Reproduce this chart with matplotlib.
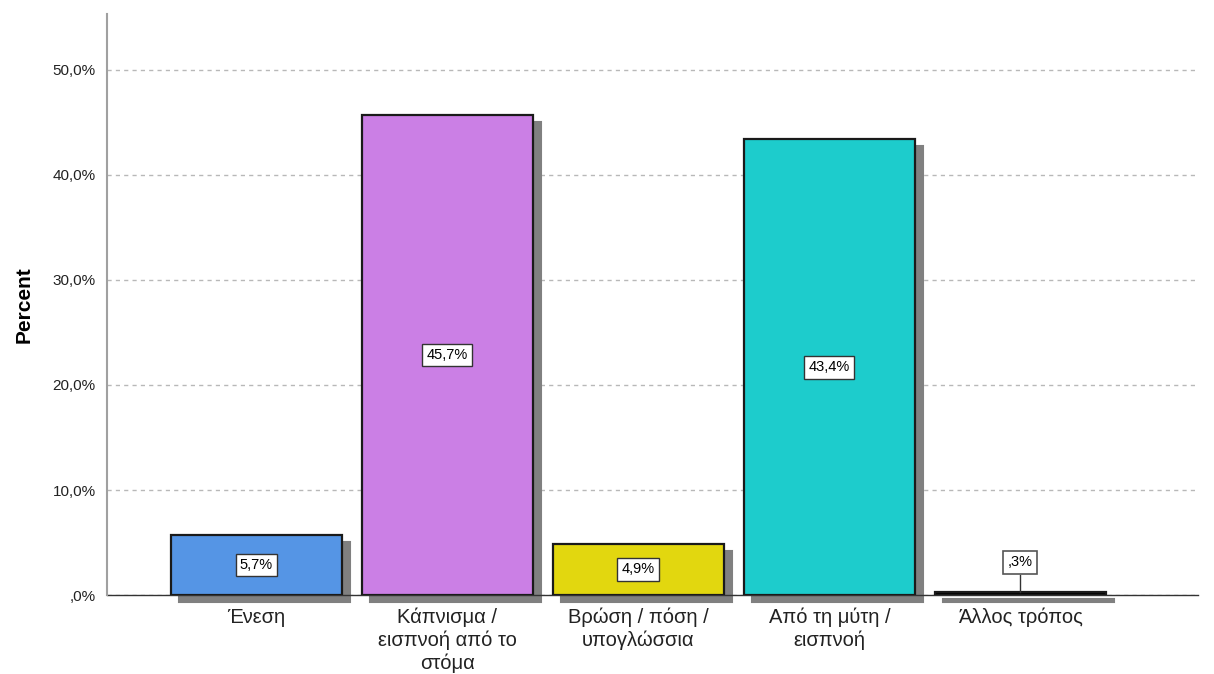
import matplotlib
matplotlib.use("Agg")
import matplotlib.pyplot as plt
import matplotlib.transforms as mtransforms

plt.rcParams['font.family'] = ['Liberation Sans', 'DejaVu Sans']

categories = ["Ένεση", "Κάπνισμα /\nεισπνοή από το\nστόμα", "Βρώση / πόση /\nυπογλώσσια",
              "Από τη μύτη /\nεισπνοή", "Άλλος τρόπος"]
values = [5.7, 45.7, 4.9, 43.4, 0.3]
value_labels = ["5,7%", "45,7%", "4,9%", "43,4%", ",3%"]
colors = ["#5595E5", "#CB7FE5", "#E2D70F", "#1DCCCC", "#000000"]
yticks = [0, 10, 20, 30, 40, 50]
ytick_labels = [",0%", "10,0%", "20,0%", "30,0%", "40,0%", "50,0%"]

fig = plt.figure(figsize=(12.14, 6.74), dpi=100)
ax = fig.add_axes([0.0881, 0.1172, 0.8987, 0.862])

x = list(range(len(categories)))
width = 0.895

shadow_tr = mtransforms.offset_copy(ax.transData, fig=fig, x=8, y=-7, units='dots')
ax.bar(x, values, width=width, color='#808080', edgecolor='#808080', linewidth=1.5,
       transform=shadow_tr, clip_on=False, zorder=1.5)
ax.bar(x, values, width=width, color=colors, edgecolor='#1a1a1a', linewidth=1.6, zorder=2)

for xi, v, lab in zip(x, values, value_labels):
    if v > 2:
        ax.text(xi, v / 2, lab, ha='center', va='center', fontsize=10.5, zorder=5,
                bbox=dict(boxstyle='square,pad=0.3', fc='white', ec='#333333', lw=1))
    else:
        ax.plot([xi, xi], [v, 1.9], color='#333333', lw=1, zorder=4)
        ax.text(xi, 3.1, lab, ha='center', va='center', fontsize=10.5, zorder=5,
                bbox=dict(boxstyle='square,pad=0.3', fc='white', ec='#555555', lw=1.2))

ax.set_xlim(-0.783, 4.93)
ax.set_ylim(0, 55.33)
ax.set_yticks(yticks)
ax.set_yticklabels(ytick_labels, fontsize=11, color='#222222')
ax.set_xticks(x)
ax.set_xticklabels(categories, fontsize=14.5, color='#222222', linespacing=1.22)
ax.tick_params(axis='y', length=0, pad=8)
ax.tick_params(axis='x', length=0, pad=9)
ax.set_ylabel("Percent", fontsize=15, fontweight='bold', labelpad=14)

ax.yaxis.grid(True, linestyle=(0, (3, 3)), color='#b8b8b8', linewidth=1)
ax.set_axisbelow(True)
for s in ['top', 'right']:
    ax.spines[s].set_visible(False)
ax.spines['left'].set_color('#a0a0a0')
ax.spines['left'].set_linewidth(1.5)
ax.spines['bottom'].set_color('#333333')
ax.spines['bottom'].set_linewidth(1)
ax.spines['bottom'].set_zorder(1.6)

fig.savefig("out.png", dpi=100, facecolor='white')
